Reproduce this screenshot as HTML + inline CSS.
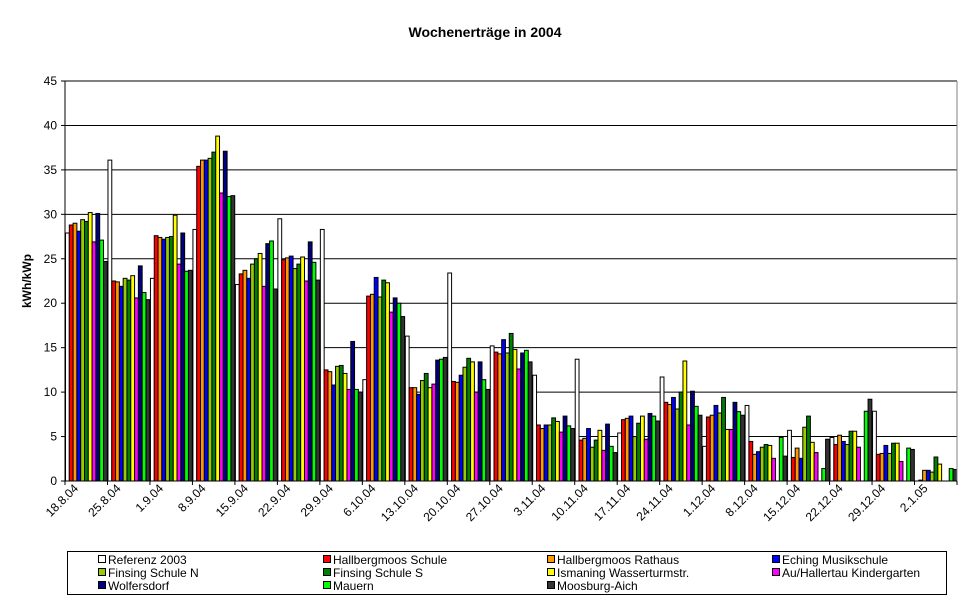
<!DOCTYPE html>
<html><head><meta charset="utf-8"><style>
html,body{margin:0;padding:0;background:#fff;}
svg{display:block;font-family:"Liberation Sans",Arial,sans-serif;}
</style></head><body>
<svg id="chart" width="970" height="604" viewBox="0 0 970 604" xmlns="http://www.w3.org/2000/svg">
<text x="485" y="37" text-anchor="middle" font-size="14" font-weight="bold">Wochenerträge in 2004</text>
<text transform="translate(31,281) rotate(-90)" text-anchor="middle" font-size="12" font-weight="bold">kWh/kWp</text>
<g id="grid"></g><g id="bars"></g><g id="axes"></g><g id="legend"></g>
</svg>
<script>
const categories=["18.8.04","25.8.04","1.9.04","8.9.04","15.9.04","22.9.04","29.9.04","6.10.04","13.10.04","20.10.04","27.10.04","3.11.04","10.11.04","17.11.04","24.11.04","1.12.04","8.12.04","15.12.04","22.12.04","29.12.04","2.1.05"];
const seriesNames=["Referenz 2003","Hallbergmoos Schule","Hallbergmoos Rathaus","Eching Musikschule","Finsing Schule N","Finsing Schule S","Ismaning Wasserturmstr.","Au/Hallertau Kindergarten","Wolfersdorf","Mauern","Moosburg-Aich"];
const seriesColors=["#ffffff","#ff0000","#ff9900","#0000ff","#99cc00","#008000","#ffff00","#ff00ff","#000080","#00ff00","#333333"];
const referenz=[27.9,36.1,22.8,28.3,22.1,29.5,28.3,11.4,16.3,23.4,15.2,11.9,13.7,5.4,11.7,3.9,8.5,5.7,4.9,7.85,0];
const hallbergmoosSchule=[28.8,22.5,27.6,35.4,23.3,24.9,12.5,20.8,10.5,11.2,14.5,6.3,4.6,6.9,8.85,7.2,4.45,2.65,4.1,3.0,0.1];
const hallbergmoosRathaus=[29.0,22.4,27.4,36.1,23.7,25.1,12.3,21.0,10.5,11.1,14.3,5.9,4.8,7.05,8.6,7.4,3.0,3.7,5.15,3.1,1.2];
const echingMusikschule=[28.1,21.9,27.2,36.1,22.8,25.3,10.8,22.9,9.75,11.9,15.9,6.3,5.9,7.3,9.4,8.5,3.3,2.55,4.45,4.0,1.2];
const finsingN=[29.4,22.8,27.4,36.3,24.4,23.9,12.9,20.7,11.3,12.8,14.4,6.3,3.8,5.0,8.1,7.65,3.8,6.05,4.1,3.1,1.0];
const finsingS=[29.2,22.6,27.5,37.0,25.0,24.4,13.0,22.6,12.1,13.8,16.6,7.1,4.6,6.5,10.0,9.4,4.1,7.3,5.6,4.25,2.7];
const ismaning=[30.2,23.1,29.9,38.8,25.6,25.2,12.1,22.3,10.5,13.4,14.8,6.7,5.7,7.3,13.5,5.8,4.0,4.35,5.6,4.25,1.9];
const auHallertau=[26.9,20.6,24.4,32.4,21.9,22.5,10.3,19.0,10.9,10.0,12.6,5.5,3.45,4.7,6.3,5.8,2.55,3.2,3.8,2.2,0];
const wolfersdorf=[30.1,24.2,27.9,37.1,26.7,26.9,15.7,20.6,13.6,13.4,14.4,7.3,6.4,7.6,10.1,8.85,0,0,0,0,0];
const mauern=[27.1,21.2,23.6,32.0,27.0,24.6,10.3,20.0,13.7,11.4,14.7,6.2,3.9,7.3,8.4,7.8,4.9,1.4,7.85,3.7,1.4];
const moosburg=[24.7,20.4,23.7,32.1,21.6,22.6,10.0,18.5,13.9,10.3,13.4,5.9,3.2,6.75,7.4,7.4,2.8,4.7,9.2,3.55,1.3];
const allSeries=[referenz,hallbergmoosSchule,hallbergmoosRathaus,echingMusikschule,finsingN,finsingS,ismaning,auHallertau,wolfersdorf,mauern,moosburg];
const yTicks=[0,5,10,15,20,25,30,35,40,45];

const NS="http://www.w3.org/2000/svg";
const X0=65,X1=957,Y0=481,Y1=81,YMAX=45;
const groupW=(X1-X0)/categories.length, barW=3.8;
function yScale(v){return Y0-(v/YMAX)*(Y0-Y1);}
function xGroup(i){return X0+i*groupW;}
function mk(tag,attrs,parent){const e=document.createElementNS(NS,tag);for(const k in attrs)e.setAttribute(k,attrs[k]);parent.appendChild(e);return e;}

const grid=document.getElementById('grid');
yTicks.forEach(t=>{
  if(t>0){const l=mk('line',{x1:X0,x2:X1,y1:yScale(t),y2:yScale(t),stroke:'#000','stroke-width':1},grid);
  
  }
  const tx=mk('text',{x:57,y:yScale(t)+4,'text-anchor':'end','font-size':12},grid);
  tx.textContent=t;
  
  
  mk('line',{x1:X0-4,x2:X0,y1:yScale(t),y2:yScale(t),stroke:'#000'},grid);
});

const bars=document.getElementById('bars');
categories.forEach((c,i)=>{
  allSeries.forEach((s,j)=>{
    const v=s[i]; if(!(v>0))return;
    const x=xGroup(i)+0.5+j*barW, y=yScale(v);
    const r=mk('rect',{x:x,y:y,width:barW,height:Y0-y,fill:seriesColors[j],stroke:'#000','stroke-width':1},bars);
    
    
  });
});

const axes=document.getElementById('axes');
mk('line',{x1:X0,x2:X0,y1:Y1,y2:Y0,stroke:'#000'},axes);
mk('line',{x1:X1,x2:X1,y1:Y1,y2:Y0,stroke:'#808080'},axes);
mk('line',{x1:X0,x2:X1,y1:Y0,y2:Y0,stroke:'#000'},axes);
categories.forEach((c,i)=>{
  mk('line',{x1:xGroup(i),x2:xGroup(i),y1:Y0,y2:Y0+4,stroke:'#000'},axes);
  const ex=xGroup(i)+14, ey=Y0+8;
  const t=mk('text',{x:ex,y:ey,'text-anchor':'end','font-size':12,transform:'rotate(-45 '+ex+' '+ey+')'},axes);
  t.textContent=c;
  
  
});
mk('line',{x1:X1,x2:X1,y1:Y0,y2:Y0+4,stroke:'#000'},axes);

const legend=document.getElementById('legend');
const lb=mk('rect',{x:67.5,y:551.5,width:879,height:43,fill:'#fff',stroke:'#000'},legend);


const colX=[98,323,547,772], rowY=[560,573,586];
seriesNames.forEach((n,j)=>{
  const cx=colX[j%4], cy=rowY[Math.floor(j/4)];
  const g=mk('g',{},legend);
  
  
  mk('rect',{x:cx+0.5,y:cy-4.5,width:7,height:7,fill:seriesColors[j],stroke:'#000'},g);
  const t=mk('text',{x:cx+10,y:cy+4,'font-size':12},g);
  t.textContent=n;
});
</script>
</body></html>
